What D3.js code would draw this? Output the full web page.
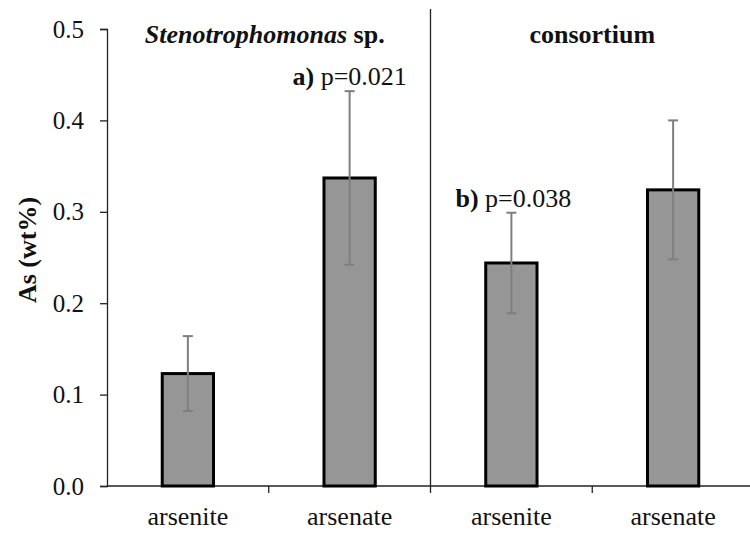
<!DOCTYPE html>
<html>
<head>
<meta charset="utf-8">
<script src="https://cdn.jsdelivr.net/npm/d3@7"></script>
<style>
  body { margin: 0; background: #fff; }
  text { font-family: "Liberation Serif", "Times New Roman", serif; fill: #111; }
</style>
</head>
<body>
<svg id="chart" width="750" height="533"></svg>
<script>
// bar data
var categories = ["arsenite", "arsenate", "arsenite", "arsenate"];
var values = [0.123, 0.337, 0.244, 0.324];
var errors = [0.041, 0.095, 0.055, 0.076];
var groups = ["Stenotrophomonas sp.", "consortium"];
var notes = [null, ["a)", " p=0.021"], ["b)", " p=0.038"], null];
var yTicks = [0.0, 0.1, 0.2, 0.3, 0.4, 0.5];

var svg = d3.select("#chart");
var mLeft = 107, mRight = 754, mTop = 29, mBottom = 486;

var x = d3.scaleBand().domain(d3.range(categories.length))
    .range([mLeft, mRight]).paddingInner(0.683).paddingOuter(0.683 / 2);
var y = d3.scaleLinear().domain([0, 0.5]).range([mBottom, mTop]);
var step = x.step();
var cx = function(i){ return x(i) + x.bandwidth() / 2; };

// y axis
var yAxis = svg.append("g").attr("transform", "translate(" + mLeft + ",0)")
    .call(d3.axisLeft(y).tickValues(yTicks).tickFormat(d3.format(".1f")).tickSize(7).tickPadding(16));
yAxis.select(".domain").attr("stroke", "#222").attr("stroke-width", 1.3);
yAxis.selectAll(".tick line").attr("stroke", "#222").attr("stroke-width", 1.3);
yAxis.selectAll(".tick text").style("font-size", "25px").attr("fill", "#222");

// x axis baseline and ticks at category boundaries
svg.append("line").attr("x1", mLeft).attr("x2", 750).attr("y1", mBottom).attr("y2", mBottom)
    .attr("stroke", "#222").attr("stroke-width", 1.3);
svg.selectAll(".xtick").data(d3.range(1, categories.length)).enter().append("line")
    .attr("x1", function(i){ return mLeft + i * step; })
    .attr("x2", function(i){ return mLeft + i * step; })
    .attr("y1", mBottom).attr("y2", mBottom + 7)
    .attr("stroke", "#222").attr("stroke-width", 1.3);
svg.selectAll(".xlab").data(categories).enter().append("text")
    .attr("x", function(d, i){ return cx(i); })
    .attr("y", 525).attr("text-anchor", "middle")
    .style("font-size", "26px").text(function(d){ return d; });

// group divider
svg.append("line").attr("x1", mLeft + 2 * step).attr("x2", mLeft + 2 * step)
    .attr("y1", 9).attr("y2", mBottom).attr("stroke", "#222").attr("stroke-width", 1.3);

// bars
svg.selectAll(".bar").data(values).enter().append("rect")
    .attr("x", function(d, i){ return x(i); })
    .attr("y", function(d){ return y(d); })
    .attr("width", x.bandwidth())
    .attr("height", function(d){ return mBottom - y(d); })
    .attr("fill", "#969696").attr("stroke", "#000").attr("stroke-width", 3);

// error bars
var eb = svg.selectAll(".err").data(values).enter().append("g")
    .attr("stroke", "#7f7f7f").attr("stroke-width", 2);
eb.append("line")
    .attr("x1", function(d, i){ return cx(i); })
    .attr("x2", function(d, i){ return cx(i); })
    .attr("y1", function(d, i){ return y(d + errors[i]); })
    .attr("y2", function(d, i){ return y(d - errors[i]); });
[1, -1].forEach(function(s){
  eb.append("line")
    .attr("x1", function(d, i){ return cx(i) - 5; })
    .attr("x2", function(d, i){ return cx(i) + 5; })
    .attr("y1", function(d, i){ return y(d + s * errors[i]); })
    .attr("y2", function(d, i){ return y(d + s * errors[i]); });
});

// group titles
var t0 = svg.append("text").attr("x", mLeft + step - 4).attr("y", 43)
    .attr("text-anchor", "middle").style("font-size", "26px").style("font-weight", "bold");
t0.append("tspan").style("font-style", "italic").text("Stenotrophomonas");
t0.append("tspan").text(" sp.");
svg.append("text").attr("x", mLeft + 3 * step).attr("y", 43)
    .attr("text-anchor", "middle").style("font-size", "26px").style("font-weight", "bold")
    .text(groups[1]);

// significance notes above the error bars
notes.forEach(function(n, i){
  if (!n) return;
  var t = svg.append("text")
      .attr("x", cx(i) + (i == 1 ? 0 : 2))
      .attr("y", y(values[i] + errors[i]) - 6)
      .attr("text-anchor", "middle").style("font-size", "26px");
  t.append("tspan").style("font-weight", "bold").text(n[0]);
  t.append("tspan").text(n[1]);
});

// y label
svg.append("text").attr("transform", "translate(36,250) rotate(-90)")
    .attr("text-anchor", "middle").style("font-size", "26px").style("font-weight", "bold")
    .text("As (wt%)");
</script>
</body>
</html>
